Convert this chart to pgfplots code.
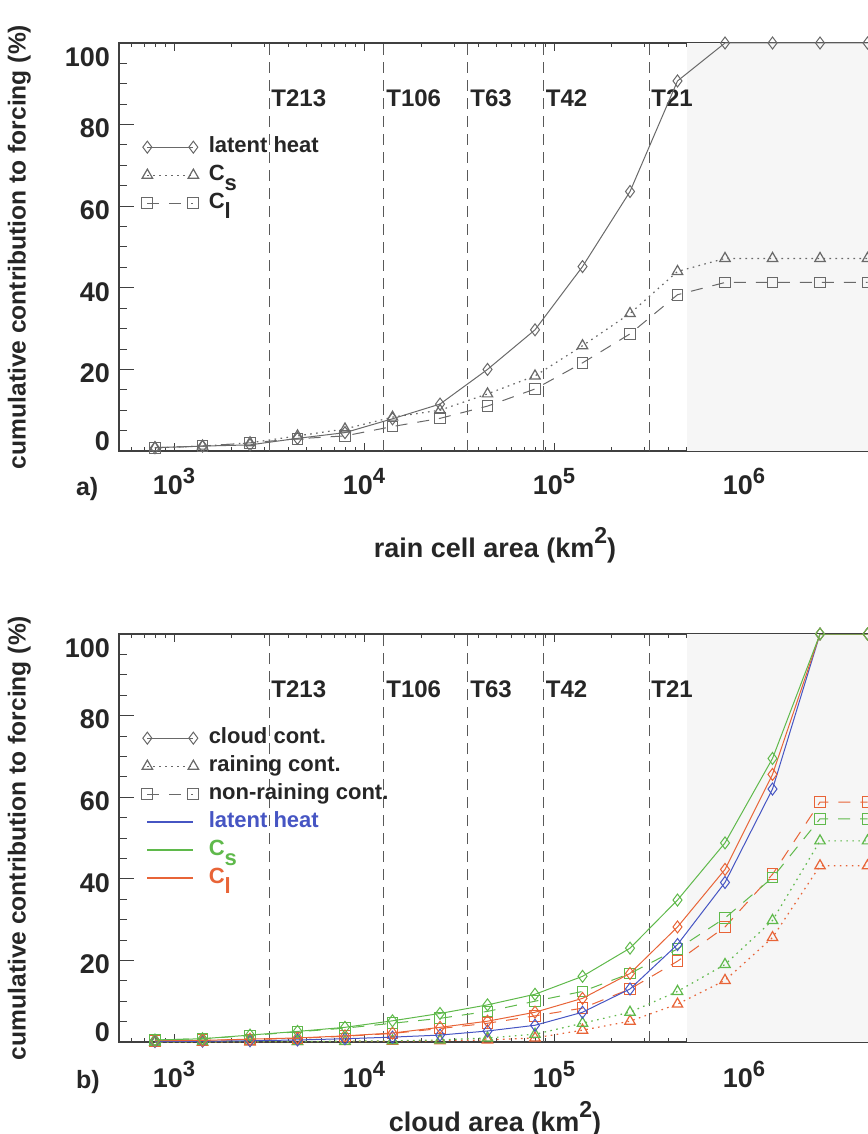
\documentclass[border=0pt]{standalone}
\usepackage{pgfplots}
\pgfplotsset{compat=1.18}
\usepackage{pgfplotstable}
\usepackage{fontspec}
\setmainfont{Liberation Sans}

\definecolor{lhblue}{RGB}{70,85,195}
\definecolor{csgreen}{RGB}{95,185,75}
\definecolor{clorange}{RGB}{232,100,55}
\definecolor{linegray}{RGB}{105,105,105}

\newcommand{\tenp}[1]{10\raisebox{5.5pt}{\fontsize{11}{11}\selectfont #1}}
\newcommand{\ylab}[2]{\raisebox{#1}[\height][\depth]{#2}}

% panel a) rain cell area
\pgfplotstableread{
x       lh    cs    cl
794     0.8   0.8   0.8
1413    1.2   1.2   1.2
2512    1.5   2.0   2.0
4467    3.1   3.7   3.0
7943    4.5   5.4   3.7
14125   7.9   8.3   6.0
25119   11.5  10.0  8.0
44668   20.0  14.0  11.0
79433   29.7  18.4  15.2
141254  45.2  25.8  21.6
251189  63.6  33.7  28.7
446684  90.7  44.0  38.3
794328  100   47.2  41.3
1412538 100   47.2  41.3
2511886 100   47.2  41.3
4466836 100   47.2  41.3
}\taba

% panel b) cloud area
\pgfplotstableread{
x       lhc   csc   clc   csr   clr   csn   cln
794     0.1   0.5   0.3   0.0   0.0   0.5   0.3
1413    0.2   0.8   0.4   0.0   0.0   0.8   0.4
2512    0.3   1.7   0.7   0.1   0.0   1.6   0.6
4467    0.5   2.6   1.0   0.1   0.1   2.5   0.9
7943    0.8   3.6   1.5   0.2   0.1   3.4   1.4
14125   1.2   5.2   2.2   0.3   0.2   4.6   2.1
25119   1.7   7.0   3.6   0.5   0.3   5.8   3.3
44668   2.7   9.1   5.1   1.0   0.5   7.5   4.6
79433   4.1   11.7  7.3   1.9   1.0   10.0  6.4
141254  7.3   16.1  10.7  4.6   2.9   12.4  8.3
251189  13.0  23.0  16.8  7.3   5.1   16.8  13.0
446684  23.9  34.8  28.2  12.4  9.3   22.8  19.8
794328  39.1  48.8  42.3  19.0  15.1  30.4  28.2
1412538 62.0  69.5  65.6  29.8  25.6  40.3  41.1
2511886 100   100   100   49.3  43.2  54.7  58.8
4466836 100   100   100   49.3  43.2  54.7  58.8
}\tabb

\tikzset{
  vline/.style={black!65, line width=0.5pt, dash pattern=on 5.5pt off 3.5pt},
  solidd/.style={solid, line width=0.5pt, mark=diamond, mark size=3pt, mark options={solid}},
  dottt/.style={line width=0.6pt, dash pattern=on 0.8pt off 2.2pt, mark=triangle, mark size=3pt, mark options={solid}},
  dashs/.style={line width=0.5pt, dash pattern=on 6pt off 5pt, mark=square, mark size=2.7pt, mark options={solid}},
  tlab/.style={anchor=west, inner sep=1pt, font=\bfseries\fontsize{12}{12}\selectfont, text=black!85},
  plab/.style={anchor=base west, font=\bfseries\fontsize{12.5}{12.5}\selectfont, text=black!85},
}

\begin{document}
\begin{tikzpicture}

% ---------- a) ----------
\begin{axis}[
  at={(59.5pt,-21.5pt)}, anchor=north west,
  scale only axis, width=376pt, height=204pt,
  xmode=log, xmin=513.5, xmax=4.66e6, ymin=0, ymax=100,
  clip mode=individual,
  axis line style={black!75, line width=0.6pt},
  tick align=inside,
  every tick/.append style={black!75, line width=0.5pt},
  xtick style={/pgfplots/major tick length=4pt, /pgfplots/minor tick length=2pt},
  ytick style={/pgfplots/major tick length=7.5pt, /pgfplots/minor tick length=4pt},
  xtick={1e3,1e4,1e5,1e6},
  xticklabels={\tenp{3},\tenp{4},\tenp{5},\tenp{6}},
  minor xtick={600,700,800,900,2000,3000,4000,5000,6000,7000,8000,9000,
    20000,30000,40000,50000,60000,70000,80000,90000,
    200000,300000,400000,500000,600000,700000,800000,900000,
    2000000,3000000,4000000},
  ytick={0,20,40,60,80,100},
  minor ytick={5,10,15,25,30,35,45,50,55,65,70,75,85,90,95},
  yticklabels={\ylab{5pt}{0},\ylab{-2pt}{20},\ylab{-2pt}{40},\ylab{-2pt}{60},\ylab{-2pt}{80},\ylab{-7pt}{100}},
  tick label style={font=\bfseries\fontsize{13.5}{13.5}\selectfont, text=black!85},
  yticklabel style={xshift=-1pt},
  xticklabel style={yshift=-5pt},
  ylabel={cumulative contribution to forcing (\%)},
  ylabel style={at={(axis description cs:-0.108,0.5)}, anchor=south,
    font=\bfseries\fontsize{12.3}{12.3}\selectfont, text=black!85},
  xlabel={rain cell area (km\raisebox{7pt}{\fontsize{11.5}{11.5}\selectfont 2})},
  xlabel style={at={(axis description cs:0.5,0)}, anchor=base, yshift=-53pt,
    font=\bfseries\fontsize{13.5}{13.5}\selectfont, text=black!85},
  legend image code/.code={\draw[#1] plot coordinates {(0pt,0pt) (23pt,0pt)};},
  legend cell align=left,
  legend style={draw=none, fill=none, inner sep=0pt,
    at={(axis description cs:0.03,0.78)}, anchor=north west,
    font=\bfseries\fontsize{11}{11}\selectfont, text=black!85,
    nodes={text height=8pt, text depth=3pt, inner sep=1.5pt},
    /tikz/every odd column/.append style={column sep=3.5pt}},
]
\addlegendimage{linegray, solidd}
\addlegendentry{latent heat}
\addlegendimage{linegray, dottt}
\addlegendentry{C\raisebox{-5pt}{s}}
\addlegendimage{linegray, dashs}
\addlegendentry{C\raisebox{-5pt}{l}}

\addplot[forget plot, draw=none, fill=black!3.5] coordinates {(5.012e5,100) (1e7,100)} \closedcycle;
\addplot[forget plot, vline] coordinates {(3162,0) (3162,100)};
\addplot[forget plot, vline] coordinates {(12735,0) (12735,100)};
\addplot[forget plot, vline] coordinates {(35240,0) (35240,100)};
\addplot[forget plot, vline] coordinates {(88100,0) (88100,100)};
\addplot[forget plot, vline] coordinates {(316228,0) (316228,100)};
\node[tlab] at (axis cs:3162,86.5) {T213};
\node[tlab] at (axis cs:12735,86.5) {T106};
\node[tlab] at (axis cs:35240,86.5) {T63};
\node[tlab] at (axis cs:88100,86.5) {T42};
\node[tlab] at (axis cs:316228,86.5) {T21};

\addplot[forget plot, linegray, solidd] table[x=x, y=lh] {\taba};
\addplot[forget plot, linegray, dottt] table[x=x, y=cs] {\taba};
\addplot[forget plot, linegray, dashs] table[x=x, y=cl] {\taba};

\node[plab] at ([xshift=-25pt, yshift=-22pt]rel axis cs:0,0) {a)};
\end{axis}

% ---------- b) ----------
\begin{axis}[
  at={(59.5pt,-317pt)}, anchor=north west,
  scale only axis, width=376pt, height=204pt,
  xmode=log, xmin=513.5, xmax=4.66e6, ymin=0, ymax=100,
  clip mode=individual,
  axis line style={black!75, line width=0.6pt},
  tick align=inside,
  every tick/.append style={black!75, line width=0.5pt},
  xtick style={/pgfplots/major tick length=4pt, /pgfplots/minor tick length=2pt},
  ytick style={/pgfplots/major tick length=7.5pt, /pgfplots/minor tick length=4pt},
  xtick={1e3,1e4,1e5,1e6},
  xticklabels={\tenp{3},\tenp{4},\tenp{5},\tenp{6}},
  minor xtick={600,700,800,900,2000,3000,4000,5000,6000,7000,8000,9000,
    20000,30000,40000,50000,60000,70000,80000,90000,
    200000,300000,400000,500000,600000,700000,800000,900000,
    2000000,3000000,4000000},
  ytick={0,20,40,60,80,100},
  minor ytick={5,10,15,25,30,35,45,50,55,65,70,75,85,90,95},
  yticklabels={\ylab{5pt}{0},\ylab{-2pt}{20},\ylab{-2pt}{40},\ylab{-2pt}{60},\ylab{-2pt}{80},\ylab{-7pt}{100}},
  tick label style={font=\bfseries\fontsize{13.5}{13.5}\selectfont, text=black!85},
  yticklabel style={xshift=-1pt},
  xticklabel style={yshift=-6pt},
  ylabel={cumulative contribution to forcing (\%)},
  ylabel style={at={(axis description cs:-0.108,0.5)}, anchor=south,
    font=\bfseries\fontsize{12.3}{12.3}\selectfont, text=black!85},
  xlabel={cloud area (km\raisebox{7pt}{\fontsize{11.5}{11.5}\selectfont 2})},
  xlabel style={at={(axis description cs:0.5,0)}, anchor=base, yshift=-44.5pt,
    font=\bfseries\fontsize{13.5}{13.5}\selectfont, text=black!85},
  legend image code/.code={\draw[#1] plot coordinates {(0pt,0pt) (23pt,0pt)};},
  legend cell align=left,
  legend style={draw=none, fill=none, inner sep=0pt,
    at={(axis description cs:0.03,0.78)}, anchor=north west,
    font=\bfseries\fontsize{11}{11}\selectfont, text=black!85,
    nodes={text height=8pt, text depth=3pt, inner sep=1.5pt},
    /tikz/every odd column/.append style={column sep=3.5pt}},
]
\addlegendimage{linegray, solidd}
\addlegendentry{cloud cont.}
\addlegendimage{linegray, dottt}
\addlegendentry{raining cont.}
\addlegendimage{linegray, dashs}
\addlegendentry{non-raining cont.}
\addlegendimage{lhblue, line width=0.8pt}
\addlegendentry{\textcolor{lhblue}{latent heat}}
\addlegendimage{csgreen, line width=0.8pt}
\addlegendentry{\textcolor{csgreen}{C\raisebox{-5pt}{s}}}
\addlegendimage{clorange, line width=0.8pt}
\addlegendentry{\textcolor{clorange}{C\raisebox{-5pt}{l}}}

\addplot[forget plot, draw=none, fill=black!3.5] coordinates {(5.012e5,100) (1e7,100)} \closedcycle;
\addplot[forget plot, vline] coordinates {(3162,0) (3162,100)};
\addplot[forget plot, vline] coordinates {(12735,0) (12735,100)};
\addplot[forget plot, vline] coordinates {(35240,0) (35240,100)};
\addplot[forget plot, vline] coordinates {(88100,0) (88100,100)};
\addplot[forget plot, vline] coordinates {(316228,0) (316228,100)};
\node[tlab] at (axis cs:3162,86.5) {T213};
\node[tlab] at (axis cs:12735,86.5) {T106};
\node[tlab] at (axis cs:35240,86.5) {T63};
\node[tlab] at (axis cs:88100,86.5) {T42};
\node[tlab] at (axis cs:316228,86.5) {T21};

\addplot[forget plot, clorange, dottt] table[x=x, y=clr] {\tabb};
\addplot[forget plot, csgreen, dottt] table[x=x, y=csr] {\tabb};
\addplot[forget plot, clorange, dashs] table[x=x, y=cln] {\tabb};
\addplot[forget plot, csgreen, dashs] table[x=x, y=csn] {\tabb};
\addplot[forget plot, lhblue, solidd] table[x=x, y=lhc] {\tabb};
\addplot[forget plot, clorange, solidd] table[x=x, y=clc] {\tabb};
\addplot[forget plot, csgreen, solidd] table[x=x, y=csc] {\tabb};

\node[plab] at ([xshift=-25pt, yshift=-23pt]rel axis cs:0,0) {b)};
\end{axis}

\pgfresetboundingbox
\useasboundingbox (0,0) rectangle (433.5pt,-567pt);
\end{tikzpicture}
\end{document}
